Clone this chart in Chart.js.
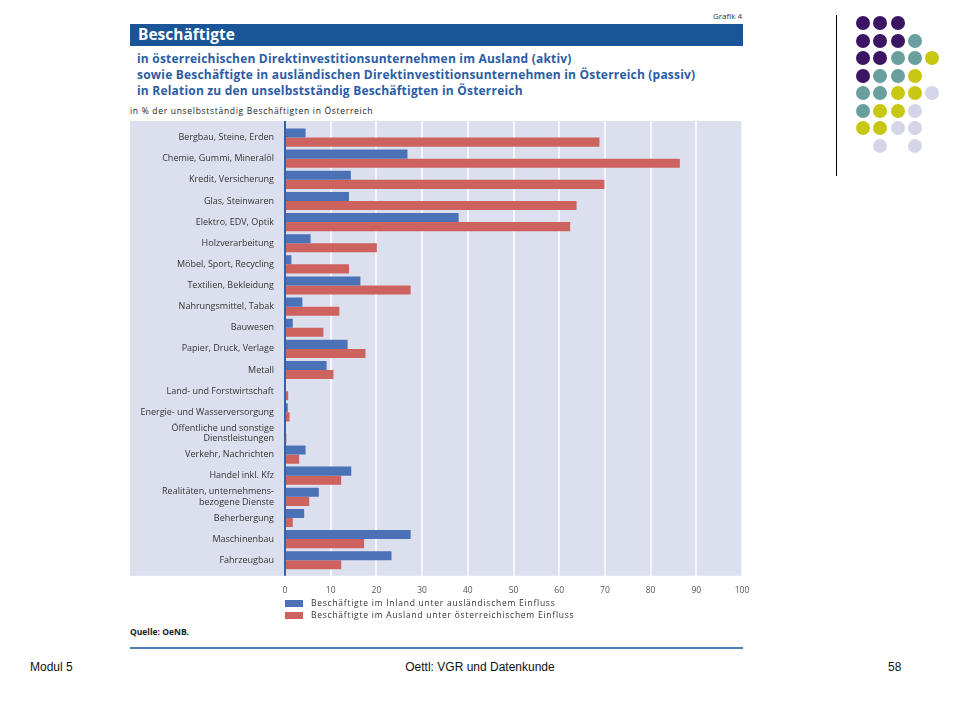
<!DOCTYPE html>
<html>
<head>
<meta charset="utf-8">
<script src="https://cdn.jsdelivr.net/npm/chart.js@4.4.1/dist/chart.umd.min.js"></script>
<style>
  html,body{margin:0;padding:0;background:#fff;width:960px;height:720px;overflow:hidden;font-family:"Open Sans","Liberation Sans",Arial,sans-serif;}
  .abs{position:absolute;white-space:nowrap;}
  #grafik{left:690px;top:10px;width:52px;text-align:right;font-size:8px;color:#333;}
  #banner{left:130px;top:24px;width:613px;height:22px;background:#1a5599;}
  #banner span{position:absolute;left:8px;top:0px;color:#fff;font-weight:bold;font-size:15.5px;line-height:21px;}
  .sub{left:137px;font-weight:bold;font-size:12px;letter-spacing:0.2px;color:#2b5da6;}
  #unit{left:130px;top:105px;font-size:8.5px;letter-spacing:0.7px;color:#222;}
  #chartwrap{position:absolute;left:130px;top:112px;width:630px;height:494px;}
  #legend{left:285px;top:597px;font-size:8.5px;letter-spacing:0.75px;color:#333;}
  #legend div{height:12px;line-height:12px;}
  #legend i{display:inline-block;width:18px;height:7px;margin-right:8px;vertical-align:middle;}
  #quelle{left:130px;top:626px;font-size:8.5px;color:#222;font-weight:bold;}
  #rule{left:130px;top:647px;width:613px;height:2px;background:#4a7fb2;}
  .foot{top:660px;font-size:12px;color:#111;font-family:Arial,"Liberation Sans",sans-serif;}
  #vline{left:836px;top:15px;width:1px;height:161px;background:#000;}
  .dot{position:absolute;width:14px;height:14px;border-radius:50%;}
</style>
</head>
<body>
<div id="grafik" class="abs">Grafik 4</div>
<div id="banner" class="abs"><span>Beschäftigte</span></div>
<div class="abs sub" style="top:50px">in österreichischen Direktinvestitionsunternehmen im Ausland (aktiv)</div>
<div class="abs sub" style="top:66px">sowie Beschäftigte in ausländischen Direktinvestitionsunternehmen in Österreich (passiv)</div>
<div class="abs sub" style="top:82px">in Relation zu den unselbstständig Beschäftigten in Österreich</div>
<div id="unit" class="abs">in % der unselbstständig Beschäftigten in Österreich</div>
<div id="chartwrap"><canvas id="c" width="630" height="494"></canvas></div>
<div id="legend" class="abs"></div>
<div id="quelle" class="abs">Quelle: OeNB.</div>
<div id="rule" class="abs"></div>
<div class="abs foot" style="left:30px">Modul 5</div>
<div class="abs foot" style="left:400px;width:160px;text-align:center">Oettl: VGR und Datenkunde</div>
<div class="abs foot" style="left:888px">58</div>
<div id="vline" class="abs"></div>
<div id="dots"></div>
<script>
const categories = [
  "Bergbau, Steine, Erden",
  "Chemie, Gummi, Mineralöl",
  "Kredit, Versicherung",
  "Glas, Steinwaren",
  "Elektro, EDV, Optik",
  "Holzverarbeitung",
  "Möbel, Sport, Recycling",
  "Textilien, Bekleidung",
  "Nahrungsmittel, Tabak",
  "Bauwesen",
  "Papier, Druck, Verlage",
  "Metall",
  "Land- und Forstwirtschaft",
  "Energie- und Wasserversorgung",
  ["Öffentliche und sonstige", "Dienstleistungen"],
  "Verkehr, Nachrichten",
  "Handel inkl. Kfz",
  ["Realitäten, unternehmens-", "bezogene Dienste"],
  "Beherbergung",
  "Maschinenbau",
  "Fahrzeugbau"
];
const inlandLabel = "Beschäftigte im Inland unter ausländischem Einfluss";
const auslandLabel = "Beschäftigte im Ausland unter österreichischem Einfluss";
const inlandValues = [4.5, 26.8, 14.4, 14.0, 38.0, 5.6, 1.4, 16.5, 3.8, 1.7, 13.7, 9.1, 0.0, 0.6, 0.1, 4.5, 14.5, 7.4, 4.2, 27.5, 23.3];
const auslandValues = [68.8, 86.4, 69.9, 63.8, 62.4, 20.1, 14.0, 27.5, 11.9, 8.4, 17.6, 10.6, 0.7, 1.0, 0.3, 3.1, 12.3, 5.3, 1.7, 17.3, 12.3];
const xTicks = [0, 10, 20, 30, 40, 50, 60, 70, 80, 90, 100];

const BLUE = "#4b71b7", RED = "#cd625f", PANEL = "#dce0ee", AXIS = "#2f63b0";

const panelBg = {
  id: "panelBg",
  beforeDraw(chart) {
    const ca = chart.chartArea, ctx = chart.ctx;
    const top = ca.top - 6, bottom = ca.bottom + 5;
    ctx.save();
    ctx.fillStyle = PANEL;
    ctx.fillRect(0, top, ca.right, bottom - top);
    ctx.restore();
  },
  beforeDatasetsDraw(chart) {
    const ca = chart.chartArea, ctx = chart.ctx, xs = chart.scales.x;
    const top = ca.top - 6, bottom = ca.bottom + 5;
    ctx.save();
    ctx.strokeStyle = "#ffffff";
    ctx.lineWidth = 1.5;
    xTicks.forEach(v => {
      if (v === 0) return;
      const px = Math.round(xs.getPixelForValue(v));
      ctx.beginPath(); ctx.moveTo(px, top); ctx.lineTo(px, bottom); ctx.stroke();
    });
    ctx.restore();
  },
  afterDatasetsDraw(chart) {
    const ca = chart.chartArea, ctx = chart.ctx, xs = chart.scales.x;
    const px = xs.getPixelForValue(0);
    ctx.save();
    ctx.strokeStyle = AXIS;
    ctx.lineWidth = 2;
    ctx.beginPath(); ctx.moveTo(px, ca.top - 6); ctx.lineTo(px, ca.bottom + 5); ctx.stroke();
    ctx.restore();
  }
};

const chart = new Chart(document.getElementById("c"), {
  type: "bar",
  data: {
    labels: categories,
    datasets: [
      { label: inlandLabel, data: inlandValues, backgroundColor: BLUE, categoryPercentage: 0.86, barPercentage: 1.0 },
      { label: auslandLabel, data: auslandValues, backgroundColor: RED, categoryPercentage: 0.86, barPercentage: 1.0 }
    ]
  },
  options: {
    indexAxis: "y",
    responsive: false,
    animation: false,
    devicePixelRatio: 1,
    layout: { padding: { top: 15, right: 18, left: 0, bottom: 0 } },
    plugins: { legend: { display: false }, tooltip: { enabled: false } },
    scales: {
      x: {
        min: 0, max: 100,
        afterBuildTicks(scale) { scale.ticks = xTicks.map(v => ({ value: v })); },
        ticks: { font: { family: "Open Sans", size: 8.5 }, color: "#555", padding: 10, maxRotation: 0 },
        grid: { display: false, tickLength: 5 },
        border: { display: false }
      },
      y: {
        afterFit(scale) { scale.width = 155; },
        ticks: { font: { family: "Open Sans", size: 9 }, color: "#333", padding: 3, autoSkip: false },
        grid: { display: false },
        border: { display: false }
      }
    }
  },
  plugins: [panelBg]
});

// legend from datasets
const lg = document.getElementById("legend");
chart.data.datasets.forEach(ds => {
  const row = document.createElement("div");
  row.innerHTML = '<i style="background:' + ds.backgroundColor + '"></i>' + ds.label;
  lg.appendChild(row);
});

// decorative dots
const P = "#3c1464", T = "#6a9fa0", Y = "#c8c814", L = "#d5d5ea";
const dotRows = [
  [P, P, P],
  [P, P, P, T],
  [P, P, T, T, Y],
  [P, T, T, Y],
  [T, T, Y, Y, L],
  [T, Y, Y, L],
  [Y, Y, L, L],
  [null, L, null, L]
];
const dotsEl = document.getElementById("dots");
dotRows.forEach((row, j) => row.forEach((c, i) => {
  if (!c) return;
  const d = document.createElement("div");
  d.className = "dot";
  d.style.left = (856 + i * 17.3) + "px";
  d.style.top = (16 + j * 17.5) + "px";
  d.style.background = c;
  dotsEl.appendChild(d);
}));
</script>
</body>
</html>
